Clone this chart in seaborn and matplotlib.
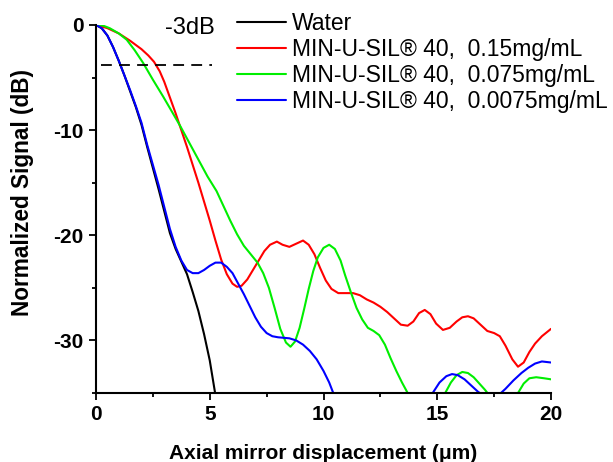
import numpy as np
import pandas as pd
import matplotlib.pyplot as plt
import seaborn as sns
from matplotlib.ticker import MultipleLocator

# ── data ──────────────────────────────────────────────────────────────────────
water_x = [0, 0.25, 0.5, 0.75, 1.0, 1.25, 1.5, 1.75, 2.0, 2.25, 2.5, 2.75, 3.0,
           3.25, 3.5, 3.75, 4.0, 4.25, 4.5, 4.75, 5.0, 5.25]
water_y = [0, -0.3, -1.0, -2.1, -3.4, -4.8, -6.3, -7.8, -9.5, -11.6, -13.6, -15.6,
           -17.7, -19.8, -21.3, -22.5, -23.7, -25.4, -27.2, -29.4, -31.9, -35.2]

red_x = [0, 0.5, 1.0, 1.5, 2.0, 2.3, 2.55, 2.8, 3.0, 3.25, 3.5, 3.75, 4.0, 4.25, 4.5,
         4.75, 5.0, 5.25, 5.5, 5.75, 6.0, 6.2, 6.4, 6.65, 6.9, 7.15, 7.4, 7.65, 7.95,
         8.2, 8.5, 8.8, 9.1, 9.35, 9.6, 9.85, 10.1, 10.35, 10.65, 11.0, 11.3, 11.6,
         11.9, 12.2, 12.5, 12.8, 13.1, 13.4, 13.7, 13.95, 14.2, 14.45, 14.7, 14.95,
         15.25, 15.55, 15.85, 16.1, 16.35, 16.6, 16.9, 17.2, 17.5, 17.75, 18.0, 18.3,
         18.55, 18.8, 19.05, 19.3, 19.6, 20.0]
red_y = [0, -0.3, -0.8, -1.5, -2.3, -2.9, -3.5, -4.4, -5.4, -6.9, -8.4, -10.0, -11.6,
         -13.3, -15.0, -16.8, -18.6, -20.5, -22.3, -23.7, -24.6, -24.9, -24.8, -24.2,
         -23.3, -22.4, -21.5, -20.9, -20.6, -20.9, -21.1, -20.8, -20.5, -20.9, -21.8,
         -23.1, -24.3, -25.1, -25.5, -25.5, -25.5, -25.7, -26.1, -26.4, -26.8, -27.3,
         -27.9, -28.5, -28.6, -28.2, -27.4, -27.1, -27.5, -28.4, -29.0, -28.8, -28.2,
         -27.8, -27.7, -27.9, -28.5, -29.1, -29.3, -29.6, -30.5, -31.8, -32.5, -32.1,
         -31.1, -30.3, -29.6, -28.9]

green_x = [0, 0.3, 0.6, 1.0, 1.35, 1.7, 2.07, 2.5, 2.95, 3.3, 3.7, 4.1, 4.5, 4.9, 5.3,
           5.6, 5.9, 6.2, 6.5, 6.8, 7.1, 7.35, 7.6, 7.85, 8.1, 8.35, 8.55, 8.75, 8.95,
           9.15, 9.35, 9.55, 9.75, 10.0, 10.25, 10.5, 10.75, 10.95, 11.2, 11.45, 11.7,
           11.95, 12.2, 12.45, 12.7, 12.95, 13.2, 13.45, 13.75, 14.0, 15.1, 15.35, 15.6,
           15.85, 16.1, 16.35, 16.6, 16.85, 17.1, 17.35, 17.6, 18.3, 18.55, 18.8, 19.05,
           19.35, 19.7, 20.0]
green_y = [0, -0.05, -0.3, -0.8, -1.4, -2.4, -3.6, -5.2, -6.8, -8.1, -9.6, -11.2,
           -12.8, -14.4, -15.8, -17.2, -18.6, -19.9, -21.0, -21.8, -22.6, -23.6, -25.0,
           -26.9, -28.9, -30.2, -30.6, -30.1, -28.8, -27.0, -25.1, -23.4, -22.1, -21.2,
           -20.9, -21.3, -22.4, -23.8, -25.4, -26.9, -28.0, -28.8, -29.1, -29.5, -30.4,
           -31.7, -32.9, -34.0, -35.2, -36.3, -36.3, -35.0, -34.0, -33.3, -33.0, -33.1,
           -33.5, -34.1, -34.7, -35.4, -36.2, -36.2, -35.0, -34.1, -33.6, -33.5, -33.6,
           -33.7]

blue_x = [0, 0.25, 0.5, 0.75, 1.0, 1.25, 1.5, 1.75, 2.0, 2.25, 2.5, 2.75, 3.0, 3.25,
          3.5, 3.75, 4.0, 4.25, 4.5, 4.75, 5.0, 5.25, 5.5, 5.75, 6.0, 6.25, 6.5, 6.75,
          7.0, 7.25, 7.5, 7.75, 8.0, 8.5, 8.8, 9.1, 9.4, 9.7, 10.0, 10.25, 10.5, 10.7,
          14.5, 14.8, 15.1, 15.4, 15.65, 15.9, 16.2, 16.5, 16.8, 17.1, 17.4, 17.7, 18.0,
          18.35, 18.7, 19.0, 19.3, 19.6, 20.0]
blue_y = [0, -0.3, -1.0, -2.1, -3.4, -4.8, -6.2, -7.7, -9.3, -11.4, -13.3, -15.2,
          -17.3, -19.4, -21.1, -22.4, -23.3, -23.6, -23.6, -23.3, -22.9, -22.6, -22.6,
          -23.0, -23.6, -24.6, -25.6, -26.7, -27.8, -28.7, -29.3, -29.6, -29.7, -29.8,
          -30.0, -30.4, -31.0, -31.8, -32.9, -34.0, -35.4, -36.5, -36.5, -35.0, -34.0,
          -33.4, -33.2, -33.3, -33.7, -34.3, -34.9, -35.3, -35.4, -35.2, -34.6, -33.8,
          -33.1, -32.6, -32.2, -32.0, -32.1]

labels = ["Water",
          "MIN-U-SIL\u00ae 40,  0.15mg/mL",
          "MIN-U-SIL\u00ae 40,  0.075mg/mL",
          "MIN-U-SIL\u00ae 40,  0.0075mg/mL"]
series = [(water_x, water_y), (red_x, red_y), (green_x, green_y), (blue_x, blue_y)]
colors = ["#000000", "#ff0000", "#00ee00", "#0000ff"]

df = pd.concat([pd.DataFrame({"x": sx, "y": sy, "sample": lab})
                for (sx, sy), lab in zip(series, labels)], ignore_index=True)

# ── plot ───────────────────────────────────────────────────────────────────────
sns.set_style("ticks")
plt.rcParams["font.family"] = ["Liberation Sans", "DejaVu Sans"]
for key in ["text.color", "axes.labelcolor", "xtick.color", "ytick.color", "axes.edgecolor"]:
    plt.rcParams[key] = "black"

fig = plt.figure(figsize=(6.13, 4.62), dpi=100)
ax = fig.add_axes([96 / 613, 1 - 393 / 462, 455 / 613, 368 / 462])

sns.lineplot(data=df, x="x", y="y", hue="sample", palette=colors,
             hue_order=labels, sort=False, estimator=None, linewidth=1.5, ax=ax)

# -3 dB reference line
ax.plot([0.2, 5.1], [-3.8, -3.8], color="black", linestyle=(0, (6, 4)), linewidth=1.3)
ax.text(3.05, -0.25, "-3dB", fontsize=17, ha="left", va="center")

ax.set_xlim(0, 20)
ax.set_ylim(-35, 0)
ax.xaxis.set_minor_locator(MultipleLocator(2.5))
ax.yaxis.set_minor_locator(MultipleLocator(5))
ax.tick_params(which="major", direction="out", length=5, width=1.3, pad=4)
ax.tick_params(which="minor", direction="out", length=3, width=1.3)
ax.set_xticks([0, 5, 10, 15, 20])
ax.set_xticklabels(["0", "5", "10", "15", "20"], fontweight="bold", fontsize=15)
ax.set_yticks([0, -10, -20, -30])
ax.set_yticklabels(["0", "-10", "-20", "-30"], fontweight="bold", fontsize=15)

sns.despine(ax=ax)
for side in ["left", "bottom"]:
    ax.spines[side].set_linewidth(1.5)
    ax.spines[side].set_color("black")

ax.set_xlabel("Axial mirror displacement (\u03bcm)", fontsize=15, fontweight="bold", labelpad=14)
ax.set_ylabel("Normalized Signal (dB)", fontsize=16.3, fontweight="bold")
ax.yaxis.set_label_coords(-0.137, 0.545)

leg = ax.legend(loc="upper left", bbox_to_anchor=(237 / 613, 1 - 12 / 462),
                bbox_transform=fig.transFigure, frameon=False, fontsize=16.5,
                handlelength=2.15, handletextpad=0.25, labelspacing=0.13,
                borderpad=0, borderaxespad=0)
for line in leg.get_lines():
    line.set_linewidth(1.5)

fig.savefig("out.png", dpi=100)
